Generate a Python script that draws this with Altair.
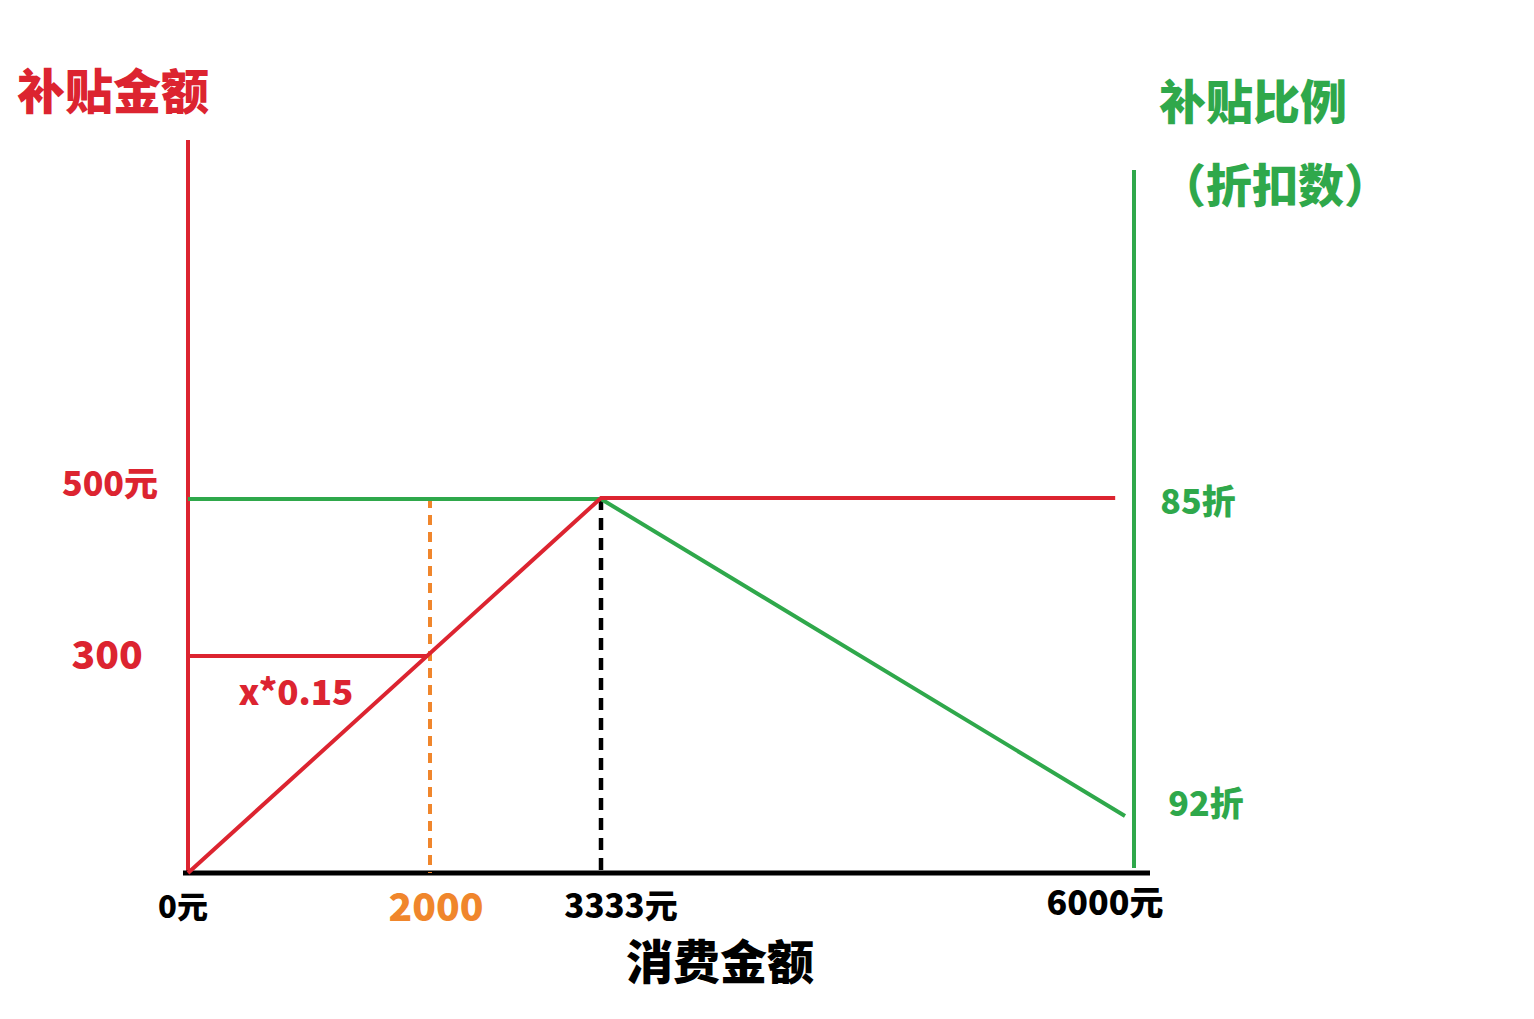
import altair as alt
import pandas as pd

# ---------------- data ----------------
red_spend = [0, 3333, 5950]          # 消费金额 (元)
red_subsidy = [0, 500, 500]          # 补贴金额 (元)
green_spend = [0, 3333, 6000]
green_discount = [8.5, 8.5, 9.2]     # 折扣 (85折 -> 8.5)
ref_spend = 2000
ref_subsidy = 300
peak_spend = 3333
cap_subsidy = 500
x_tick_values = [0, 2000, 3333, 6000]
x_tick_labels = ["0元", "2000", "3333元", "6000元"]
y_tick_values = [500, 300]
y_tick_labels = ["500元", "300"]
d_tick_values = [8.5, 9.2]
d_tick_labels = ["85折", "92折"]

RED = "#dc2430"
GREEN = "#2fa84b"
ORANGE = "#f0862c"
BLACK = "#000000"
FONT = "Noto Sans CJK SC"
WEIGHT = 900

xs = alt.Scale(domain=[0, 2000, 3333, 6000], range=[180, 422, 593, 1117], zero=False, nice=False)
ya = alt.Scale(domain=[0, 300, 500], range=[865, 648, 490], zero=False, nice=False)
yd = alt.Scale(domain=[8.5, 9.2], range=[491, 808], zero=False, nice=False)

red_df = pd.DataFrame({"spend": red_spend, "subsidy": red_subsidy})
green_df = pd.DataFrame({"spend": green_spend, "discount": green_discount})

layers = []

# axis lines
one = pd.DataFrame({"k": [0]})
layers.append(alt.Chart(one).mark_rule(color=RED, strokeWidth=4).encode(
    x=alt.X(datum=0, type="quantitative", scale=xs, axis=None),
    y=alt.value(132), y2=alt.value(865)))
layers.append(alt.Chart(one).mark_rule(color=GREEN, strokeWidth=4).encode(
    x=alt.value(1126), y=alt.value(162), y2=alt.value(860)))
layers.append(alt.Chart(one).mark_rule(color=BLACK, strokeWidth=5).encode(
    x=alt.value(175), x2=alt.value(1142),
    y=alt.Y(datum=0, type="quantitative", scale=ya, axis=None)))

# red 300 guide
layers.append(alt.Chart(one).mark_rule(color=RED, strokeWidth=4).encode(
    x=alt.X(datum=0, type="quantitative", scale=xs, axis=None),
    x2=alt.X2(datum=ref_spend),
    y=alt.Y(datum=ref_subsidy, type="quantitative", scale=ya, axis=None)))
# orange dashed at 2000
layers.append(alt.Chart(one).mark_rule(color=ORANGE, strokeWidth=4, strokeDash=[10, 7]).encode(
    x=alt.X(datum=ref_spend, type="quantitative", scale=xs, axis=None),
    y=alt.Y(datum=cap_subsidy, type="quantitative", scale=ya, axis=None),
    y2=alt.Y2(datum=0)))
# black dashed at 3333
layers.append(alt.Chart(one).mark_rule(color=BLACK, strokeWidth=4.5, strokeDash=[12, 8]).encode(
    x=alt.X(datum=peak_spend, type="quantitative", scale=xs, axis=None),
    y=alt.Y(datum=cap_subsidy, type="quantitative", scale=ya, axis=None),
    y2=alt.Y2(datum=0)))

# green discount line
layers.append(alt.Chart(green_df).mark_line(color=GREEN, strokeWidth=4).encode(
    x=alt.X("spend:Q", scale=xs, axis=None),
    y=alt.Y("discount:Q", scale=yd, axis=None)))
# red subsidy line
layers.append(alt.Chart(red_df).mark_line(color=RED, strokeWidth=4).encode(
    x=alt.X("spend:Q", scale=xs, axis=None),
    y=alt.Y("subsidy:Q", scale=ya, axis=None)))


def text_layer(t, color, size, x, y, dx=0, dy=0):
    return alt.Chart(pd.DataFrame({"t": [t]})).mark_text(
        font=FONT, fontWeight=WEIGHT, fontSize=size, color=color,
        align="center", baseline="middle", dx=dx, dy=dy).encode(
        x=x, y=y, text="t:N")


# x tick labels
x_colors = [BLACK, ORANGE, BLACK, BLACK]
x_sizes = [31, 39, 33, 34]
x_dx = [-5, 6, 20, -20]
x_py = [901, 901, 900, 897]
for v, lab, c, s, ddx, py in zip(x_tick_values, x_tick_labels, x_colors, x_sizes, x_dx, x_py):
    layers.append(text_layer(lab, c, s,
                             alt.X(datum=v, type="quantitative", scale=xs, axis=None),
                             alt.value(py), dx=ddx))

# left y tick labels
y_px = [102, 99]
y_dy = [-12, 1]
y_sizes = [34, 39]
for v, lab, px, ddy, s in zip(y_tick_values, y_tick_labels, y_px, y_dy, y_sizes):
    layers.append(text_layer(lab, RED, s, alt.value(px),
                             alt.Y(datum=v, type="quantitative", scale=ya, axis=None), dy=ddy))

# right discount labels
d_px = [1190, 1198]
d_dy = [5, -10]
for v, lab, px, ddy in zip(d_tick_values, d_tick_labels, d_px, d_dy):
    layers.append(text_layer(lab, GREEN, 34, alt.value(px),
                             alt.Y(datum=v, type="quantitative", scale=yd, axis=None), dy=ddy))

# formula + titles
layers.append(text_layer("x*0.15", RED, 35, alt.value(288), alt.value(686)))
layers.append(text_layer("补贴金额", RED, 48, alt.value(105), alt.value(87)))
layers.append(text_layer("补贴比例", GREEN, 47, alt.value(1245), alt.value(97)))
layers.append(text_layer("（折扣数）", GREEN, 46, alt.value(1267), alt.value(180)))
layers.append(text_layer("消费金额", BLACK, 47, alt.value(712), alt.value(957)))

chart = alt.layer(*layers).resolve_scale(y="independent").properties(
    width=1500, height=985,
    autosize=alt.AutoSizeParams(type="none"),
    padding=0,
).configure_view(stroke=None)

chart.save("out.html", embed_options={"renderer": "svg", "actions": False})
